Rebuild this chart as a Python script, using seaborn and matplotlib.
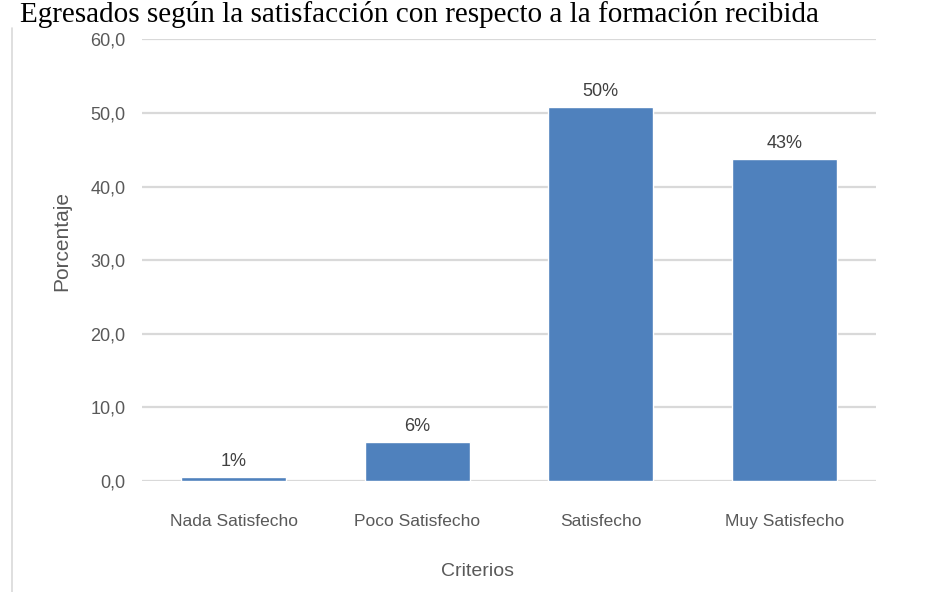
import pandas as pd
import seaborn as sns
import matplotlib.pyplot as plt
from matplotlib.lines import Line2D

# data
criterios = ["Nada Satisfecho", "Poco Satisfecho", "Satisfecho", "Muy Satisfecho"]
porcentaje = [0.5, 5.35, 50.85, 43.75]
etiquetas = ["1%", "6%", "50%", "43%"]
yticks = [0, 10, 20, 30, 40, 50, 60]

df = pd.DataFrame({"Criterios": criterios, "Porcentaje": porcentaje})

sns.set_theme(style="white")
plt.rcParams["font.family"] = ["Liberation Sans", "DejaVu Sans"]

fig = plt.figure(figsize=(9.35, 5.92), dpi=100)
ax = fig.add_axes([142 / 935, 111 / 592, 734 / 935, 441.7 / 592])

sns.barplot(data=df, x="Criterios", y="Porcentaje", color="#4f81bd",
            width=0.57, saturation=1, ax=ax, zorder=3)

ax.set_ylim(0, 60)
ax.set_xlim(-0.5, 3.5)
ax.set_yticks(yticks)
ax.set_yticklabels([f"{v:.1f}".replace(".", ",") for v in yticks])
ax.yaxis.grid(True, color="#d9d9d9", linewidth=1.6, zorder=0)
ax.set_axisbelow(True)
for s in ax.spines.values():
    s.set_visible(False)
ax.tick_params(axis="y", length=0, pad=12, labelsize=13, labelcolor="#595959")
ax.tick_params(axis="x", length=0, pad=24, labelsize=12.5, labelcolor="#595959")
ax.set_xlabel("")
ax.set_ylabel("")

for i, (v, t) in enumerate(zip(porcentaje, etiquetas)):
    ax.annotate(t, (i, v), xytext=(0, 5), textcoords="offset points",
                ha="center", va="bottom", fontsize=13, color="#404040")

fig.text(478 / 935, 20 / 592, "Criterios", ha="center", va="center",
         fontsize=14, color="#595959")
fig.text(62 / 935, 1 - 241 / 592, "Porcentaje", ha="center", va="center",
         rotation=90, fontsize=15, color="#595959")

fig.text(20 / 935, 1 - 22 / 592,
         "Egresados según la satisfacción con respecto a la formación recibida",
         ha="left", va="baseline", fontsize=21, color="black",
         family="Liberation Serif")

fig.add_artist(Line2D([12 / 935, 12 / 935], [0, 1 - 28 / 592],
                      transform=fig.transFigure, color="#d9d9d9", linewidth=1.2))

fig.savefig("out.png", dpi=100)
